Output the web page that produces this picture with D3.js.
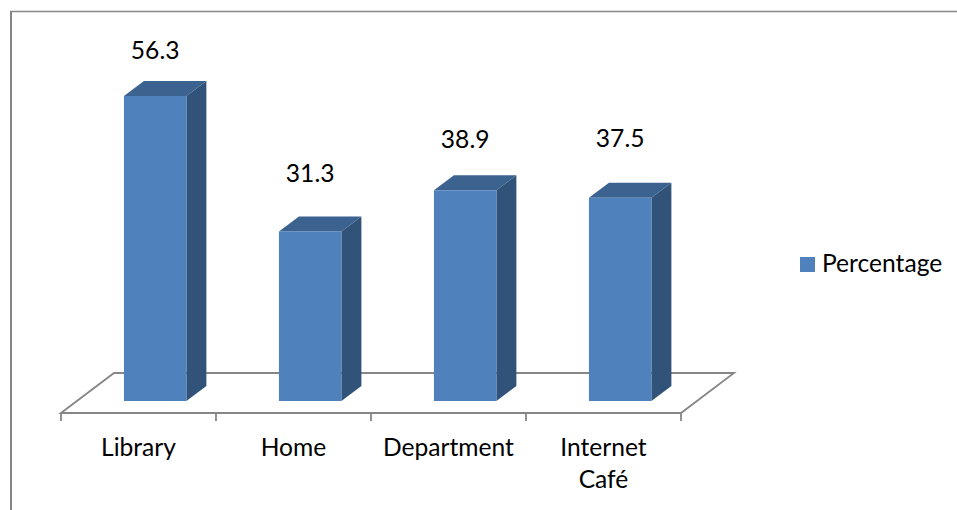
<!DOCTYPE html>
<html>
<head>
<meta charset="utf-8">
<script src="https://cdn.jsdelivr.net/npm/d3@7/dist/d3.min.js"></script>
<style>
  html, body { margin: 0; padding: 0; background: #fff; overflow: hidden; }
  text { font-family: Lato, "Open Sans", sans-serif; font-size: 24.6px; fill: #000; }
</style>
</head>
<body>
<script>
var categories = ['Library', 'Home', 'Department', 'Internet Café'];
var percentages = [56.3, 31.3, 38.9, 37.5];
var seriesName = 'Percentage';
// hand placed labels in the original, gap between bar top and label centre
var labelGaps = [46, 58, 51, 59];

var screen = { width: 957, height: 510 };
var floor = { left: 61, right: 681, front: 413, bottom: 401 };
var depth = { x: 20, y: -15 };
var floorDepth = { x: 53, y: -40 };
var grey = '#868686';

var svg = d3.select('body').append('svg')
  .attr('width', screen.width)
  .attr('height', screen.height)
  .style('display', 'block');

// chart frame, left edge is heavier than the top one
svg.append('line')
  .attr('x1', 11).attr('x2', 11)
  .attr('y1', 11).attr('y2', screen.height)
  .attr('stroke', grey)
  .attr('stroke-width', 2);
svg.append('line')
  .attr('x1', 10).attr('x2', screen.width)
  .attr('y1', 11.5).attr('y2', 11.5)
  .attr('stroke', grey)
  .attr('stroke-width', 1.5);

var xScale = d3.scaleBand()
  .domain(categories)
  .range([floor.left, floor.right]);

var yScale = d3.scaleLinear()
  .domain([0, 56.3])
  .range([floor.bottom, 96]);

// floor
svg.append('path')
  .attr('d', 'M' + floor.left + ',' + floor.front +
    'L' + (floor.left + floorDepth.x) + ',' + (floor.front + floorDepth.y) +
    'H' + (floor.right + floorDepth.x) +
    'L' + floor.right + ',' + floor.front + 'Z')
  .attr('fill', 'none')
  .attr('stroke', grey)
  .attr('stroke-width', 1.8);

// ticks
var tickPositions = categories.map(function(d){ return xScale(d); }).concat(floor.right);
svg.selectAll('.tick')
  .data(tickPositions)
  .enter()
  .append('line')
  .classed('tick', true)
  .attr('x1', function(d){ return d; })
  .attr('x2', function(d){ return d; })
  .attr('y1', floor.front)
  .attr('y2', floor.front + 8)
  .attr('stroke', grey)
  .attr('stroke-width', 1.8);

var barWidth = xScale.bandwidth() * 0.403;
var barOffset = xScale.bandwidth() * 0.406;

var bars = svg.selectAll('.bar')
  .data(percentages)
  .enter()
  .append('g')
  .classed('bar', true)
  .attr('transform', function(d, i){
    return 'translate(' + (xScale(categories[i]) + barOffset) + ',0)';
  });

// top face
bars.append('path')
  .attr('fill', '#3c6390')
  .attr('d', function(d){
    var y = yScale(d);
    return 'M0,' + y + 'L' + depth.x + ',' + (y + depth.y) +
      'H' + (barWidth + depth.x) + 'L' + barWidth + ',' + y + 'Z';
  });

// side face
bars.append('path')
  .attr('fill', '#325379')
  .attr('d', function(d){
    var y = yScale(d);
    return 'M' + barWidth + ',' + y + 'L' + (barWidth + depth.x) + ',' + (y + depth.y) +
      'V' + (floor.bottom + depth.y) + 'L' + barWidth + ',' + floor.bottom + 'Z';
  });

// front face
bars.append('rect')
  .attr('x', 0)
  .attr('width', barWidth)
  .attr('y', function(d){ return yScale(d); })
  .attr('height', function(d){ return floor.bottom - yScale(d); })
  .attr('fill', '#4f81bd');

// value labels
bars.append('text')
  .attr('x', barWidth / 2)
  .attr('y', function(d, i){ return yScale(d) - labelGaps[i]; })
  .attr('dy', '0.35em')
  .attr('text-anchor', 'middle')
  .text(function(d){ return d.toFixed(1); });

// category labels, wrapped on spaces
svg.selectAll('.cat')
  .data(categories)
  .enter()
  .append('text')
  .classed('cat', true)
  .attr('text-anchor', 'middle')
  .attr('y', 456)
  .each(function(d){
    var current = d3.select(this);
    var x = xScale(d) + xScale.bandwidth() / 2;
    d.split(' ').forEach(function(word, i){
      current.append('tspan')
        .attr('x', x)
        .attr('dy', i === 0 ? 0 : 32)
        .text(word);
    });
  });

// legend
var legend = svg.append('g')
  .attr('transform', 'translate(800,257)');
legend.append('rect')
  .attr('width', 15)
  .attr('height', 15)
  .attr('fill', '#4f81bd');
legend.append('text')
  .attr('x', 22)
  .attr('y', 15)
  .text(seriesName);
</script>
</body>
</html>
